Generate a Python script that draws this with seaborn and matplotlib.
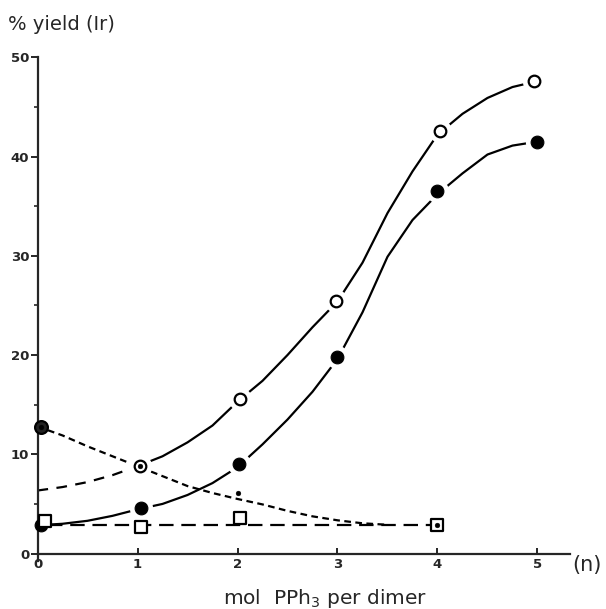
import numpy as np
import pandas as pd
import seaborn as sns
import matplotlib.pyplot as plt

# measured points (mol PPh3 per dimer, % yield)
x_open = [1.02, 2.02, 2.99, 4.03, 4.97]
y_open = [8.8, 15.6, 25.4, 42.6, 47.6]

x_filled = [0.03, 1.03, 2.01, 3.0, 4.0, 5.0]
y_filled = [2.9, 4.6, 9.0, 19.8, 36.5, 41.5]

x_dot = [0.03, 1.02, 2.0, 4.0]
y_dot = [12.8, 8.8, 6.1, 2.85]

x_sq = [0.07, 1.03, 2.02, 4.0]
y_sq = [3.25, 2.7, 3.6, 2.85]

# hand-drawn curves
cx_open_dash = [0.0, 0.25, 0.5, 0.75, 1.0]
cy_open_dash = [6.35, 6.7, 7.2, 7.9, 8.8]

cx_open = [1.0, 1.25, 1.5, 1.75, 2.0, 2.25, 2.5, 2.75, 3.0, 3.25, 3.5,
           3.75, 4.0, 4.25, 4.5, 4.75, 5.0]
cy_open = [8.8, 9.8, 11.2, 12.9, 15.3, 17.4, 20.0, 22.8, 25.4, 29.3, 34.3,
           38.5, 42.2, 44.3, 45.9, 47.0, 47.6]

cx_filled = [0.0, 0.25, 0.5, 0.75, 1.0, 1.25, 1.5, 1.75, 2.0, 2.25, 2.5,
             2.75, 3.0, 3.25, 3.5, 3.75, 4.0, 4.25, 4.5, 4.75, 5.0]
cy_filled = [2.85, 3.0, 3.3, 3.8, 4.45, 5.0, 5.9, 7.1, 8.7, 11.0, 13.5,
             16.3, 19.6, 24.3, 29.9, 33.6, 36.2, 38.3, 40.2, 41.1, 41.5]

cx_dot = [0.0, 0.25, 0.5, 0.75, 1.0, 1.25, 1.5, 1.75, 2.0, 2.25, 2.5,
          2.75, 3.0, 3.25, 3.5]
cy_dot = [12.8, 11.9, 10.8, 9.8, 8.8, 7.8, 6.8, 6.1, 5.5, 4.95, 4.3,
          3.75, 3.35, 3.05, 2.9]

cx_sq = [0.1, 4.0]
cy_sq = [2.9, 2.9]

#------------------------------------------------------------------------------
sns.set_style('ticks')
plt.rcParams['font.family'] = ['DejaVu Sans']

fig = plt.figure(figsize=(6.06, 6.09), dpi=100)
ax = fig.add_axes([0.0619, 0.078, 0.8795, 0.828])

lw = 1.6
k = 'black'

sns.lineplot(x=cx_open_dash, y=cy_open_dash, color=k, linewidth=lw,
             linestyle=(0, (4.8, 3.8)), ax=ax)
sns.lineplot(x=cx_open, y=cy_open, color=k, linewidth=lw, ax=ax)
sns.lineplot(x=cx_filled, y=cy_filled, color=k, linewidth=lw, ax=ax)
sns.lineplot(x=cx_dot, y=cy_dot, color=k, linewidth=lw,
             linestyle=(0, (3, 2)), ax=ax)
sns.lineplot(x=cx_sq, y=cy_sq, color=k, linewidth=lw,
             linestyle=(0, (6.5, 3.5)), ax=ax)
for ln in ax.lines:
    ln.set_zorder(1.5)

# white halos make the gaps round the markers
n0 = len(ax.collections)
sns.scatterplot(x=x_open + x_filled[1:], y=y_open + y_filled[1:], ax=ax,
                marker='o', s=280, color='white', linewidth=0, legend=False)
for c in ax.collections[n0:]:
    c.set_zorder(2.2)
    c.set_clip_on(False)

n0 = len(ax.collections)
sns.scatterplot(x=x_open, y=y_open, s=70, marker='o', facecolors='white',
                edgecolors=k, linewidth=1.6, ax=ax)
sns.scatterplot(x=x_filled, y=y_filled, s=85, marker='o', facecolors=k,
                edgecolors=k, ax=ax)
sns.scatterplot(x=x_sq, y=y_sq, s=75, marker='s', facecolors='white',
                edgecolors=k, linewidth=1.6, ax=ax)
sns.scatterplot(x=x_dot[:1], y=y_dot[:1], s=85, marker='o', facecolors='#222222',
                edgecolors=k, linewidth=1.6, ax=ax)
sns.scatterplot(x=x_dot, y=y_dot, s=12, marker='o', facecolors=k,
                edgecolors=k, ax=ax)
for i, c in enumerate(ax.collections[n0:]):
    c.set_zorder(3 + 0.1 * i)
    c.set_clip_on(False)

ax.set_xlim(0, 5.33)
ax.set_ylim(-0.8, 50)
ax.spines['right'].set_visible(False)
ax.spines['top'].set_visible(False)
ax.spines['bottom'].set_position(('data', 0))
ax.spines['left'].set_bounds(-0.8, 50)
for s in ['left', 'bottom']:
    ax.spines[s].set_linewidth(1.6)
    ax.spines[s].set_zorder(2.5)

ax.set_xticks([0, 1, 2, 3, 4, 5])
ax.set_yticks([0, 10, 20, 30, 40, 50])
ax.set_yticks([5, 15, 25, 35, 45], minor=True)
ax.tick_params(axis='y', which='major', direction='out', length=5, width=1.4,
               pad=1, labelsize=9.5)
ax.tick_params(axis='y', which='minor', direction='out', length=3, width=1.2)
ax.tick_params(axis='x', which='major', direction='in', length=4, width=1.4,
               pad=3, labelsize=9.5)
for t in ax.get_xticklabels() + ax.get_yticklabels():
    t.set_fontweight('bold')

ax.set_xlabel('')
ax.set_ylabel('')

fig.text(0.013, 0.959, '% yield (Ir)', fontsize=14, va='center', ha='left')
fig.text(0.537, 0.018, 'mol  PPh$_3$ per dimer', fontsize=14.5,
         va='center', ha='center')
fig.text(0.945, 0.072, '(n)', fontsize=15, va='center', ha='left')

fig.savefig('out.png', dpi=100)
